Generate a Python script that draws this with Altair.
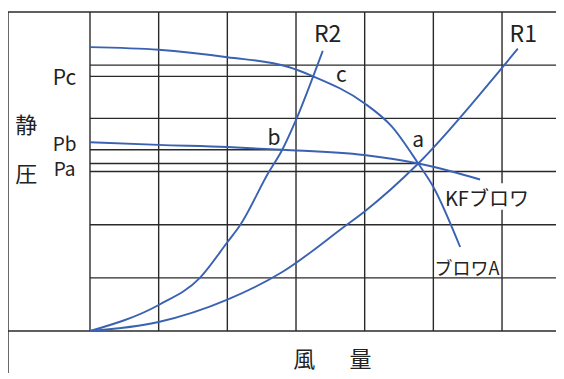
import altair as alt
import pandas as pd

# ---- data (grid units: one grid cell = 1 on each axis) ----
grid_x = [0, 1, 2, 3, 4, 5, 6]
grid_y = [1, 2, 3, 4, 5]

ref_names = ["Pc", "Pb", "Pa"]
ref_p = [4.79, 3.41, 3.15]
ref_q_end = [3.25, 2.80, 4.78]

# fan curve "ブロワA"
q_A = [0, 1.0, 2.0, 2.88, 3.25, 3.99, 4.40, 4.78, 5.0, 5.39]
p_A = [5.34, 5.29, 5.15, 4.97, 4.79, 4.29, 3.84, 3.15, 2.71, 1.58]
# fan curve "KFブロワ"
q_KF = [0, 1.0, 2.0, 2.80, 3.99, 4.78, 5.24, 5.68]
p_KF = [3.55, 3.50, 3.46, 3.41, 3.31, 3.15, 3.01, 2.85]
# system resistance R1
q_R1 = [0, 1.0, 2.0, 2.8, 3.73, 3.99, 4.78, 6.0, 6.23]
p_R1 = [0, 0.17, 0.59, 1.11, 1.99, 2.24, 3.15, 4.95, 5.31]
# system resistance R2
q_R2 = [0, 1.0, 1.6, 2.0, 2.18, 2.6, 2.80, 3.0, 3.25, 3.39]
p_R2 = [0, 0.49, 1.0, 1.67, 1.98, 2.98, 3.41, 3.97, 4.79, 5.27]

# annotation texts and anchors (grid units)
lab_text = ["R2", "R1", "c", "b", "a", "Pc", "Pb", "Pa",
            "KFブロワ", "ブロワA", "静", "圧", "風", "量"]
lab_q = [3.46, 6.31, 3.66, 2.68, 4.78, -0.37, -0.37, -0.37,
         5.78, 5.49, -0.93, -0.93, 3.12, 3.94]
lab_p = [5.445, 5.445, 4.69, 3.50, 3.455, 4.627, 3.39, 2.915,
         2.342, 1.053, 3.715, 2.806, -0.675, -0.675]
lab_size = [23, 23, 21, 21, 21, 21, 19, 19, 20, 18, 22, 22, 22, 22]

X_MIN, X_MAX = -1.194, 6.786
Y_MAX = 6.0
W, H = 548, 361
Y_MIN = Y_MAX - H / 53.17

BLACK = "#2a2a2a"
BLUE = "#3a62b2"
FONT = "Noto Sans CJK JP"

xs = alt.Scale(domain=[X_MIN, X_MAX], nice=False, zero=False)
ys = alt.Scale(domain=[Y_MIN, Y_MAX], nice=False, zero=False)

# ---- rules: frame, grid, reference pressure lines ----
rules = []
rules.append(dict(x=X_MIN, x2=X_MAX, y=Y_MAX, y2=Y_MAX))   # top frame
rules.append(dict(x=X_MIN, x2=X_MIN, y=Y_MIN, y2=Y_MAX))   # left frame
rules.append(dict(x=X_MIN, x2=X_MAX, y=0, y2=0))           # base line
for gy in grid_y:
    rules.append(dict(x=0, x2=X_MAX, y=gy, y2=gy))
for gx in grid_x:
    if gx == 6:
        rules.append(dict(x=gx, x2=gx, y=2.78, y2=Y_MAX))
        rules.append(dict(x=gx, x2=gx, y=0, y2=2.28))
    else:
        rules.append(dict(x=gx, x2=gx, y=0, y2=Y_MAX))
for p, qe in zip(ref_p, ref_q_end):
    rules.append(dict(x=0, x2=qe, y=p, y2=p))
rules_df = pd.DataFrame(rules)

rule_layer = alt.Chart(rules_df).mark_rule(color=BLACK, strokeWidth=1.4).encode(
    x=alt.X("x:Q", scale=xs, axis=None),
    x2="x2:Q",
    y=alt.Y("y:Q", scale=ys, axis=None),
    y2="y2:Q",
)

# ---- curves ----
rows = []
for name, qs, ps in [("ブロワA", q_A, p_A), ("KFブロワ", q_KF, p_KF),
                     ("R1", q_R1, p_R1), ("R2", q_R2, p_R2)]:
    for i, (q, p) in enumerate(zip(qs, ps)):
        rows.append(dict(series=name, i=i, q=q, p=p))
curve_df = pd.DataFrame(rows)

curve_layer = alt.Chart(curve_df).mark_line(
    color=BLUE, strokeWidth=1.9, interpolate="monotone"
).encode(
    x=alt.X("q:Q", scale=xs, axis=None),
    y=alt.Y("p:Q", scale=ys, axis=None),
    detail="series:N",
    order="i:Q",
)

# ---- texts ----
text_df = pd.DataFrame(dict(t=lab_text, q=lab_q, p=lab_p, s=lab_size))
text_layer = alt.Chart(text_df).mark_text(
    font=FONT, color="#222222", align="center", baseline="alphabetic"
).encode(
    x=alt.X("q:Q", scale=xs, axis=None),
    y=alt.Y("p:Q", scale=ys, axis=None),
    text="t:N",
    size=alt.Size("s:Q", scale=None, legend=None),
)

chart = alt.layer(rule_layer, curve_layer, text_layer).properties(
    width=W, height=H,
    padding={"left": 0, "top": 4, "right": 0, "bottom": 0},
    autosize=alt.AutoSizeParams(type="none"),
    background="white",
).configure_view(stroke=None)

chart.save("out.html", embed_options={"renderer": "svg", "actions": False})
